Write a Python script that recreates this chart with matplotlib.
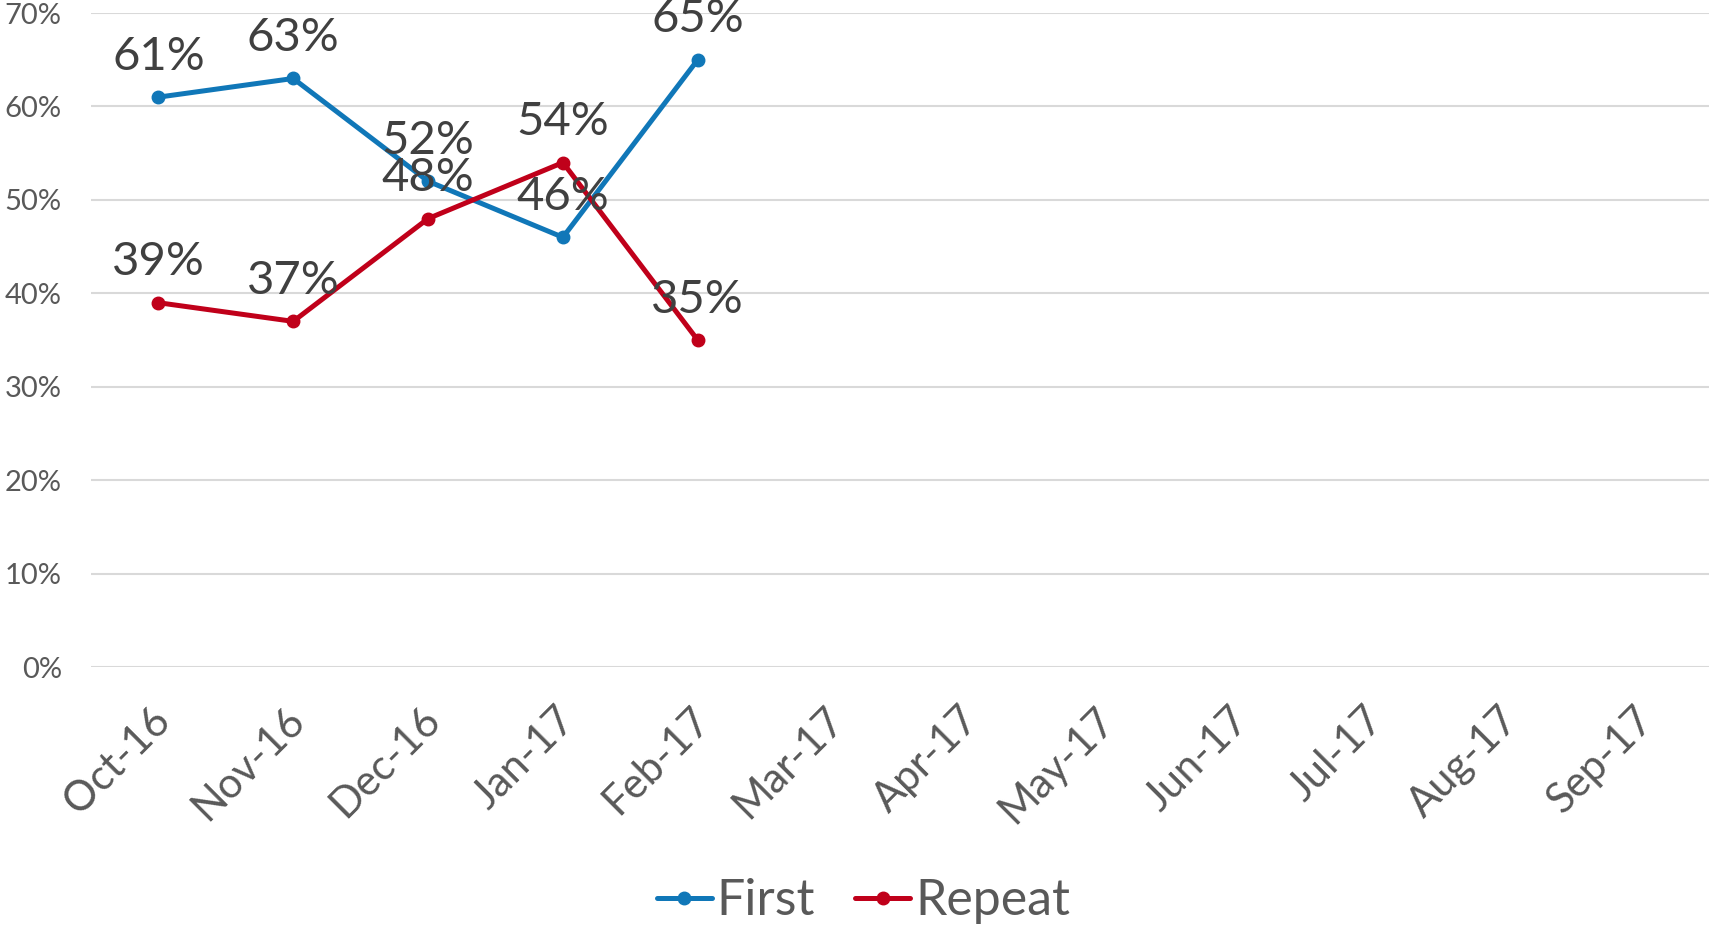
import matplotlib
matplotlib.use("Agg")
import matplotlib.pyplot as plt
import matplotlib.transforms as mtransforms
from matplotlib.ticker import FuncFormatter, MultipleLocator

months = ["Oct-16", "Nov-16", "Dec-16", "Jan-17", "Feb-17", "Mar-17",
          "Apr-17", "May-17", "Jun-17", "Jul-17", "Aug-17", "Sep-17"]
first = [0.61, 0.63, 0.52, 0.46, 0.65]
repeat = [0.39, 0.37, 0.48, 0.54, 0.35]

BLUE = "#1077B8"
RED = "#C0001A"
TICK = "#595959"
LABEL = "#404040"

plt.rcParams['font.family'] = ['Lato', 'DejaVu Sans']

fig = plt.figure(figsize=(17.1, 9.33), dpi=100)
ax = fig.add_axes([0.0532, 0.285, 0.9462, 0.701])

x = list(range(len(months)))
ax.plot(x[:len(first)], first, color=BLUE, lw=3.6, marker='o', ms=9,
        solid_capstyle='round', label='First', zorder=3)
ax.plot(x[:len(repeat)], repeat, color=RED, lw=3.6, marker='o', ms=9,
        solid_capstyle='round', label='Repeat', zorder=3)

for series in (first, repeat):
    for i, v in enumerate(series):
        ax.annotate(f"{round(v*100)}%", (i, v), xytext=(0, 14),
                    textcoords='offset points', ha='center', va='bottom',
                    fontsize=34, color=LABEL, zorder=4)

ax.set_xlim(-0.5, len(months) - 0.5)
ax.set_ylim(0, 0.7)
ax.yaxis.set_major_locator(MultipleLocator(0.1))
ax.yaxis.set_major_formatter(FuncFormatter(lambda v, p: f"{round(v*100)}%"))
ax.set_xticks(x)
ax.set_xticklabels(months, rotation=45, ha='right', rotation_mode='anchor')
ax.tick_params(axis='x', length=0, pad=24, labelsize=30, labelcolor=TICK)
ax.tick_params(axis='y', length=0, pad=21, labelsize=21, labelcolor=TICK)
shift = mtransforms.ScaledTranslation(-8 / 100, 0, fig.dpi_scale_trans)
for lab in ax.get_xticklabels():
    lab.set_transform(lab.get_transform() + shift)

ax.grid(axis='y', color='#D9D9D9', lw=1.5)
ax.set_axisbelow(True)
for s in ax.spines.values():
    s.set_visible(False)

fig.legend(loc='center', bbox_to_anchor=(0.505, 0.034), ncol=2, frameon=False,
           fontsize=36, labelcolor=TICK, handlelength=1.1, handletextpad=0.1,
           columnspacing=0.8, borderaxespad=0)

fig.savefig("out.png", dpi=100, facecolor='white')
